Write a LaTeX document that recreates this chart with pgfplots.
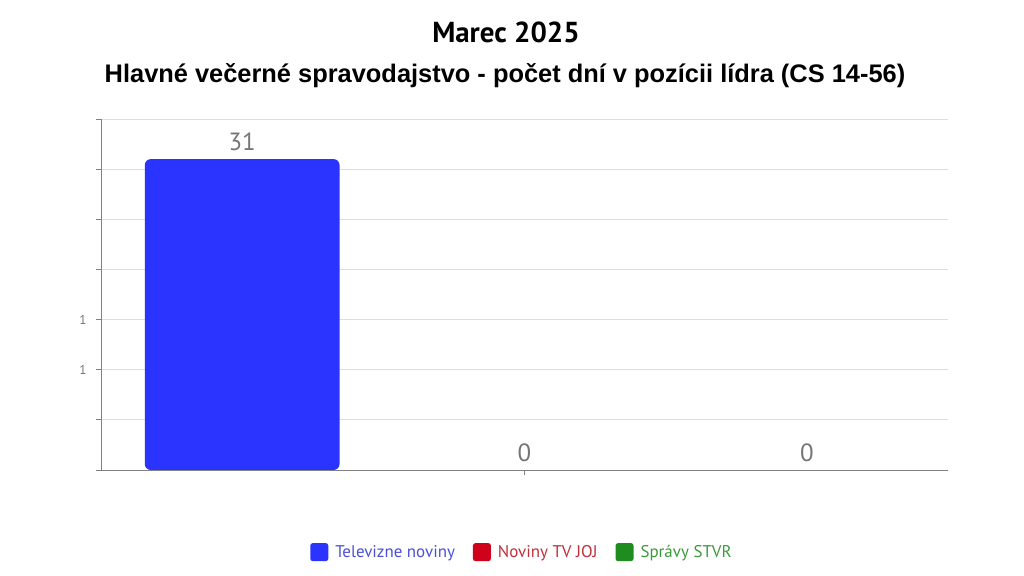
\documentclass[border=0pt]{standalone}
\usepackage{fontspec}
\setmainfont{PT Sans}
\newfontfamily\arialfont{Liberation Sans}
\usepackage{pgfplots}
\pgfplotsset{compat=1.18}
\definecolor{tvblue}{HTML}{2B33FF}
\definecolor{jojred}{HTML}{D0021B}
\definecolor{stvrgreen}{HTML}{1E8C1E}
\definecolor{tvtext}{HTML}{4B4FD8}
\definecolor{jojtext}{HTML}{C0303A}
\definecolor{stvrtext}{HTML}{3A9A3A}
\definecolor{gridgray}{HTML}{DDDDDD}
\definecolor{axisgray}{HTML}{808080}
\definecolor{labgray}{HTML}{757575}

\begin{document}
\begin{tikzpicture}
\path[use as bounding box] (0,0) rectangle (1024bp,576bp);
\node[font=\fontsize{29}{32}\selectfont\bfseries] at (506bp,544bp) {Marec 2025};
\node[font=\arialfont\bfseries\fontsize{25.5}{28}\selectfont] at (505bp,500bp)
    {Hlavné večerné spravodajstvo - počet dní v pozícii lídra (CS 14-56)};
\begin{axis}[
    at={(101bp,106bp)}, anchor=south west,
    scale only axis,
    width=847bp, height=351bp,
    ybar, bar width=0.69, bar shift=0pt,
    xmin=-0.5, xmax=2.5, ymin=0, ymax=35,
    axis x line*=bottom, axis y line*=left,
    axis line style={axisgray, line width=0.8bp, -},
    xtick={1}, xticklabels={},
    ytick={0,5,...,35}, yticklabels={,,\mbox{1},\mbox{1},,,,},
    tick align=outside, major tick length=5bp,
    tick style={axisgray, line width=0.8bp},
    ymajorgrids, grid style={gridgray, line width=0.8bp},
    yticklabel style={font=\fontsize{13}{13}\selectfont, text=labgray, xshift=-6bp},
    /pgf/number format/assume math mode=true,
    nodes near coords,
    every node near coord/.append style={font=\fontsize{25}{25}\selectfont, text=labgray, yshift=5bp},
    legend style={at={(0.497,-0.234)}, anchor=center, legend columns=-1, draw=none,
        font=\fontsize{17}{17}\selectfont,
        /tikz/every odd column/.append style={column sep=5bp},
        /tikz/every even column/.append style={column sep=16bp}},
]
\addplot[fill=tvblue, draw=none, rounded corners=6bp,
    legend image code/.code={\fill[tvblue, rounded corners=2.5bp] (0bp,-9bp) rectangle (18bp,9bp);}]
    coordinates {(0,31)};
\addlegendentry[text=tvtext]{Televizne noviny}
\addplot[fill=none, draw=none,
    legend image code/.code={\fill[jojred, rounded corners=2.5bp] (0bp,-9bp) rectangle (18bp,9bp);}]
    coordinates {(1,0)};
\addlegendentry[text=jojtext]{Noviny TV JOJ}
\addplot[fill=none, draw=none,
    legend image code/.code={\fill[stvrgreen, rounded corners=2.5bp] (0bp,-9bp) rectangle (18bp,9bp);}]
    coordinates {(2,0)};
\addlegendentry[text=stvrtext]{Správy STVR}
\end{axis}
\end{tikzpicture}
\end{document}
